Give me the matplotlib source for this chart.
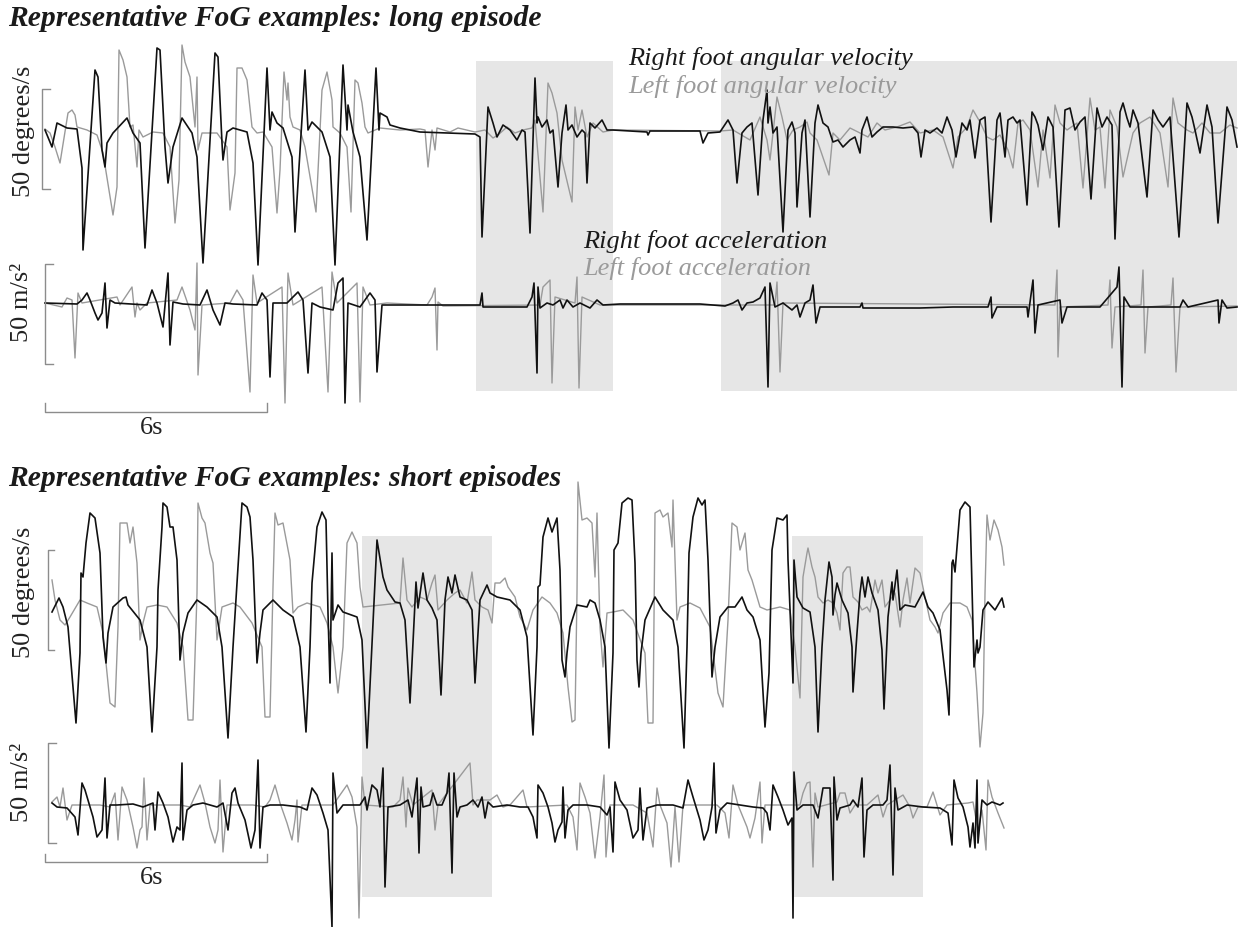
import numpy as np
import matplotlib
matplotlib.use("Agg")
import matplotlib.pyplot as plt
from matplotlib.patches import Rectangle

# sampling: 6 s scale bar = 222 samples
fs = 37.0

# (sample, value) pairs; gyro in degrees/s, acc in m/s^2
long_right_gyro = [
    (0, -0.5), (7, -9), (12, 3), (22, 0.5), (32, 0), (37, -19.5), (38, -60.5), (50, 29.5), (53, 26),
    (57, -10.5), (60, -19), (62, -7), (68, -2), (82, 5.5), (88, -2), (95, -7), (100, -59.5), (112, 40.5),
    (115, 39.5), (120, -9), (123, -27), (128, -9), (137, 5.5), (147, -2), (152, -14), (158, -67), (170, 38),
    (173, 36), (177, -7), (178, -15.5), (182, -1.5), (188, 0.5), (202, -1.5), (208, -17), (213, -68),
    (222, 30.5), (225, -0.5), (227, 8.5), (232, 3), (238, 0.5), (247, -14), (250, -51.5), (260, 29.5),
    (263, -0.5), (267, 3.5), (277, -1.5), (285, -14), (290, -68), (298, 32), (302, -0.5), (303, 12),
    (308, -1.5), (315, -14), (322, -55.5), (331, 30.5), (334, -0.5), (335, 8), (342, 6), (345, 2),
    (355, 0.5), (375, -1.5), (430, -2.5), (435, -4), (437, -54), (443, 11), (448, 3), (452, -4), (458, 2),
    (465, -0.5), (472, -5.5), (477, -0.5), (480, -1.5), (485, -52), (490, 25.5), (492, 3), (493, 6),
    (497, 1), (502, 4.5), (505, -2), (508, -0.5), (513, -29), (517, -2), (521, 12), (523, -0.5), (527, 2),
    (532, -4), (537, -0.5), (540, -2), (542, -27), (545, 3), (550, 0.5), (557, 4.5), (562, -0.5),
    (568, -0.5), (602, -1.5), (603, -3), (605, -1), (655, -1), (658, -7), (663, -2), (675, -1.5),
    (683, 4.5), (688, -0.5), (692, -27), (697, -2), (702, 1), (707, 3), (713, -33), (718, 4.5), (722, 19.5),
    (723, 3), (725, 11), (728, -2), (732, 1), (738, -51.5), (743, -0.5), (747, 3.5), (750, -2), (752, -39),
    (757, -2), (760, 4.5), (765, -44), (770, 3), (773, 12), (778, 3), (783, 1), (788, -6.5), (793, -5.5),
    (798, -9), (805, -5.5), (810, -4), (815, -12), (817, -0.5), (822, 6), (827, -4), (832, -1.5), (838, 1),
    (848, 1), (858, 0.5), (868, 1), (873, -2), (876, -14), (880, -0.5), (885, -2), (892, 0.5), (897, -2),
    (902, 6), (907, -0.5), (911, -14), (917, 3), (922, -0.5), (925, 4.5), (930, -14.5), (935, 4.5),
    (940, 6), (946, -46.5), (952, 4.5), (955, 8), (960, -14), (963, 4.5), (968, 6), (972, 3), (975, 4.5),
    (982, -38), (987, 8.5), (990, 6), (993, 2), (998, -10.5), (1003, 6), (1008, 1), (1014, -49),
    (1020, 9.5), (1025, 10.5), (1030, -0.5), (1035, 3.5), (1040, 6), (1046, -35), (1052, 10.5), (1057, 1),
    (1062, 6), (1067, 2), (1070, -55), (1075, 8.5), (1078, 13), (1082, 5.5), (1085, 1), (1088, 9.5),
    (1093, 3), (1102, -34), (1108, 9.5), (1113, 4.5), (1118, 1), (1125, 6), (1134, -54), (1142, 13),
    (1147, 6), (1150, -0.5), (1155, -12), (1162, 12), (1167, 1), (1173, -47), (1182, 11), (1187, 4.5),
    (1192, -9),
]
long_left_gyro = [
    (0, 0), (5, -2), (10, -9), (15, -17), (20, -1.5), (23, 8), (27, 9.5), (30, 7), (32, 1), (42, -0.5),
    (52, -3), (58, -12), (68, -43), (72, -29), (74, 39.5), (78, 34.5), (82, 26), (85, 1), (88, 2),
    (92, -19), (94, -0.5), (98, -4), (108, -1.5), (118, -2), (125, -9), (130, -47), (134, -25.5), (137, 42),
    (140, 33.5), (145, 26), (150, 1), (152, 26), (153, -10.5), (157, -2), (172, -2), (182, -9), (185, -40.5),
    (190, -22), (192, 30.5), (197, 30.5), (202, 24.5), (207, 1), (212, -2), (218, -1.5), (227, -9),
    (232, -42), (235, -20.5), (239, 28.5), (242, 14.5), (243, 23), (245, 6), (248, 1), (255, -0.5),
    (260, -9), (271, -41.5), (277, 19.5), (282, 28.5), (287, 14.5), (288, 1), (295, -2), (302, -9),
    (306, -41.5), (310, 24.5), (313, 23), (317, 13), (320, 1), (323, -2), (335, 0.5), (355, -0.5), (375, 0),
    (380, -0.5), (383, -19), (387, -0.5), (390, -10.5), (392, 0.5), (405, -1.5), (413, 0.5), (430, -1.5),
    (440, -0.5), (448, -4.5), (453, -3), (462, 1), (470, -2), (478, -0.5), (487, 0.5), (490, 4.5),
    (498, -41.5), (503, 23), (507, 18), (512, 8), (517, -15.5), (527, -36.5), (530, 11), (533, -0.5),
    (537, 9.5), (542, -4), (548, 3), (558, -1.5), (568, -0.5), (675, -1), (688, -0.5), (705, -5.5),
    (715, 6), (722, -5.5), (725, -15.5), (732, 16), (737, 6), (742, -5.5), (748, -0.5), (755, 1), (762, 3.5),
    (765, -2), (772, -5.5), (784, -23), (788, -2), (795, -5.5), (805, 0.5), (815, -2), (823, -4), (832, 3),
    (840, -0.5), (852, 1), (865, 3.5), (875, -2), (888, -0.5), (898, -4), (908, -19.5), (913, -4), (922, 1),
    (928, 9.5), (935, 3.5), (942, -4), (948, -5.5), (955, -3), (963, -10.5), (968, -19.5), (973, 3),
    (978, 4.5), (985, -0.5), (993, -29), (998, -0.5), (1005, -24.5), (1010, 12), (1015, 3), (1022, -0.5),
    (1032, 3), (1038, -29.5), (1045, 15.5), (1050, -0.5), (1055, 1), (1060, -29.5), (1065, 9.5), (1072, 1),
    (1078, -24), (1088, -2), (1095, 3), (1105, 6), (1115, -2), (1123, -29), (1128, 15.5), (1133, 3),
    (1142, -0.5), (1148, -2), (1157, 3), (1165, -2), (1175, -2), (1185, 2), (1192, 0.5),
]
long_right_acc = [
    (0, 0.5), (32, 0), (37, 2), (42, 5.5), (45, 2), (50, -4.5), (53, -8), (57, -4.5), (60, 10.5), (62, -12),
    (65, 2), (70, 0.5), (102, -0.5), (107, 7), (112, 0.5), (118, -11.5), (123, 15.5), (125, -20.5), (128, 1),
    (138, 0), (155, -0.5), (162, 7), (168, -3), (175, -10.5), (180, 0.5), (188, 0), (212, -0.5), (217, 5.5),
    (222, 2), (225, -36.5), (228, 0.5), (242, 0.5), (253, 6), (258, 2), (263, -34.5), (267, 0.5),
    (275, -1.5), (288, -3), (293, 10.5), (298, 13), (300, -49.5), (303, 0.5), (315, -1.5), (325, 5.5),
    (330, 2), (332, -34), (337, -0.5), (375, -0.5), (435, -0.5), (437, 5.5), (438, -1.5), (445, -1.5),
    (482, -1.5), (487, 3.5), (489, 10.5), (492, -34.5), (493, 8.5), (495, -2), (502, 0.5), (508, -0.5),
    (515, 2), (518, -2), (522, 2), (528, -1.5), (535, 0.5), (545, -2), (552, 2), (558, -0.5), (575, 0),
    (655, 0), (680, -1), (688, 0.5), (693, 2), (697, -3), (702, 0.5), (708, 1), (715, 3), (720, 8.5),
    (723, -41.5), (725, 10.5), (730, -1.5), (738, 0.5), (747, -3), (752, -0.5), (755, -6.5), (760, 0.5),
    (765, 2), (768, 9.5), (771, -9.5), (775, -1.5), (815, -1.5), (817, 0.5), (818, -2), (875, -2),
    (908, -1.5), (943, -1.5), (946, 3.5), (947, -7), (952, -1.5), (982, -1.5), (983, -6.5), (988, 12),
    (990, -14.5), (993, -0.5), (1015, 2), (1017, -9.5), (1022, -1.5), (1055, -1.5), (1072, 8.5),
    (1074, 18.5), (1077, -41.5), (1079, 3.5), (1085, -1.5), (1135, -1.5), (1138, 2), (1143, -1.5),
    (1173, 2), (1174, -9.5), (1177, 2), (1182, -2), (1192, -1.5),
]
long_left_acc = [
    (0, 0.5), (17, -1.5), (22, 3), (27, 2), (30, -27), (33, 5.5), (37, 0.5), (72, 3.5), (75, -0.5),
    (87, 8.5), (90, -6.5), (92, 0.5), (95, -3), (102, 0.5), (132, 2), (137, 8.5), (145, -3), (150, -13),
    (152, 20.5), (153, -35.5), (157, -0.5), (185, 0.5), (192, 7), (198, 2), (205, -44), (208, 14.5),
    (212, 0.5), (237, 8.5), (240, -49.5), (243, 15.5), (248, -0.5), (277, 8.5), (283, -44), (287, 16),
    (292, 0.5), (312, 10.5), (315, -49), (318, 8.5), (325, -0.5), (342, 0.5), (382, -0.5), (387, 3.5),
    (390, 8), (392, -23), (393, 1), (398, -1), (495, -0.5), (498, 8.5), (505, 12), (507, -39.5), (510, 3.5),
    (530, 0.5), (532, 13.5), (534, -42), (537, 3.5), (555, -0.5), (730, -0.5), (732, 11), (735, -34),
    (738, 0.5), (1010, -0.5), (1012, 17), (1013, -26.5), (1015, -1.5), (1063, -0.5), (1065, 12),
    (1067, -22), (1070, -1.5), (1096, -0.5), (1098, 17), (1100, -24.5), (1103, -1.5), (1126, -0.5),
    (1128, 13), (1131, -34), (1135, -1.5), (1192, -1),
]
short_right_gyro = [
    (7, -4), (14, 3), (18, -1.5), (23, -11.5), (31, -59.5), (35, -24.5), (36, 15.5), (38, 13.5), (41, 30.5),
    (45, 45.5), (50, 43), (55, 25.5), (58, -16.5), (61, -29.5), (63, -14.5), (68, -1.5), (78, 3), (81, 3.5),
    (83, -0.5), (95, -8), (102, -21.5), (107, -64), (112, -21.5), (113, 7), (117, 38.5), (118, 50.5),
    (122, 48.5), (125, 38.5), (128, 38.5), (132, 22), (135, -28), (138, -14.5), (143, -4.5), (152, 2),
    (162, -1.5), (172, -6.5), (177, -21.5), (183, -67), (188, -21.5), (192, 10.5), (197, 50.5), (202, 48.5),
    (205, 43.5), (208, 22), (212, -29.5), (215, -14.5), (218, -3), (228, 2), (238, -3), (248, -6.5),
    (255, -21.5), (261, -64), (265, -21.5), (267, 10.5), (272, 38.5), (277, 46), (281, 42), (283, -4.5),
    (285, -39.5), (287, 25.5), (288, -8), (293, -0.5), (298, -4), (312, -6.5), (317, -18), (322, -72),
    (332, 32), (338, 13.5), (342, 7), (350, 1), (355, 0.5), (360, -8), (365, -49.5), (371, 11), (373, -2),
    (378, 15.5), (382, 2), (387, -2), (392, -8), (396, -45.5), (400, 2), (403, 13.5), (407, 5.5), (410, 14.5),
    (415, 3.5), (422, 2), (427, -3), (430, -39.5), (435, 2), (442, 9.5), (445, 5.5), (452, 3.5), (465, 2),
    (475, -3), (482, -16.5), (488, -65.5), (492, -21.5), (493, 8.5), (495, 9.5), (498, 33.5), (503, 43),
    (507, 36), (512, 43), (515, 17), (517, -28), (520, -36.5), (522, -24.5), (525, -11.5), (532, -0.5),
    (542, -1.5), (545, 2), (550, 0.5), (555, -8), (560, -21.5), (564, -72), (568, -24.5), (569, 27),
    (573, 30.5), (577, 50.5), (583, 53), (587, 52), (590, 20.5), (592, -28), (594, -41.5), (596, -24.5),
    (600, -8), (610, 3.5), (618, -3), (628, -8), (633, -21.5), (639, -72), (642, -21.5), (644, 25.5),
    (648, 43.5), (653, 53), (657, 49.5), (660, 52), (663, 22), (667, -36.5), (670, -21.5), (675, -6.5),
    (683, -1.5), (690, -1.5), (697, 3.5), (702, -3), (708, -6.5), (715, -18), (720, -61.5), (724, -34.5),
    (727, 27), (732, 43), (738, 42), (742, 44.5), (743, 22), (748, -39.5), (749, 22), (752, 3.5), (758, -2),
    (765, -4), (770, -21.5), (773, -64), (777, -21.5), (780, 2), (784, 21), (787, 13.5), (788, -5.5),
    (790, 4.5), (792, 10.5), (797, 2), (803, -4.5), (807, -21.5), (808, -44), (812, -14.5), (815, 5.5),
    (817, 13.5), (820, 3.5), (823, 13.5), (827, 5.5), (833, -3), (837, -23), (839, -52.5), (843, -6.5),
    (847, 11), (848, 2), (852, 17), (855, -3), (860, -0.5), (870, -1.5), (878, 6), (883, -1.5), (888, -4.5),
    (895, -13), (902, -43), (904, -55.5), (907, 20.5), (908, 22), (910, 16), (915, 47), (920, 51),
    (925, 48.5), (927, 8.5), (929, -31.5), (932, -18), (933, -24.5), (935, -21.5), (938, -3), (943, 1),
    (950, -3), (957, 3), (959, -1.5),
]
short_left_gyro = [
    (7, 12), (10, 2), (15, -8), (20, -10.5), (25, -6.5), (35, 2), (42, 0.5), (52, -1.5), (58, -14.5),
    (65, -49.5), (70, -51.5), (73, -11.5), (75, 40.5), (82, 40.5), (85, 30.5), (88, 38.5), (92, 20.5),
    (95, -18), (98, -9.5), (102, -1.5), (112, -0.5), (122, -1.5), (132, -9.5), (138, -21.5), (143, -58),
    (148, -58), (152, 5.5), (153, 50.5), (157, 43), (160, 40.5), (165, 25.5), (168, 20.5), (172, -18),
    (177, -1.5), (188, 0.5), (195, -1.5), (207, -9.5), (217, -21.5), (220, -56.5), (225, -56.5), (228, 8.5),
    (230, 45.5), (233, 39.5), (238, 40.5), (245, 22), (248, -4.5), (253, -1.5), (262, 0.5), (275, -1.5),
    (282, -9.5), (288, -21.5), (293, -44.5), (298, -21.5), (302, 30.5), (307, 36), (312, 30.5), (315, 8.5),
    (318, -1.5), (355, 0.5), (358, 23), (362, 2), (367, -1.5), (375, 3.5), (382, 2), (387, 10.5),
    (390, 14.5), (393, -3), (402, 2), (410, 5.5), (415, 7), (422, 0.5), (427, 16), (430, 2), (437, -1.5),
    (443, -3), (447, -9.5), (450, 10.5), (455, 10.5), (460, 13), (463, 8.5), (470, 3.5), (475, -6.5),
    (482, -13), (488, -3), (497, 3.5), (505, 0.5), (512, -4.5), (518, -14.5), (523, -41.5), (527, -59),
    (530, -58), (532, 5.5), (533, 61), (537, 42), (542, 43), (547, 40.5), (550, 13.5), (552, 45.5),
    (555, -11.5), (558, -31.5), (562, -4.5), (568, -4), (578, -3), (588, -8), (600, -24.5), (603, -59.5),
    (608, -59.5), (610, 45.5), (615, 47), (618, 43.5), (623, 45.5), (627, 28.5), (628, 52), (632, -8),
    (635, -1.5), (645, 0.5), (655, -2), (665, -11.5), (673, -44.5), (678, -51.5), (683, -8), (687, 40.5),
    (692, 38.5), (695, 27), (700, 35.5), (703, 17), (707, 12), (715, -1.5), (722, -3), (735, -1.5),
    (745, -3), (750, -21.5), (755, -47), (758, 13.5), (762, 25.5), (763, 28), (767, 18.5), (770, 13.5),
    (773, 3.5), (778, 0.5), (783, 2), (788, 0.5), (792, -4.5), (795, -13), (798, 15.5), (802, 18.5),
    (805, 18.5), (808, 3.5), (813, 1), (817, -3), (822, -1.5), (825, -4), (830, 12), (833, 5.5), (837, 12),
    (840, -1.5), (845, 2), (850, 5.5), (855, -11.5), (858, 2), (862, 13), (865, 0.5), (870, 18),
    (875, 15.5), (880, 3.5), (885, -8), (890, -11.5), (893, -14.5), (898, -4.5), (905, 0.5), (915, 0.5),
    (922, -1.5), (927, -8), (932, -44.5), (935, -71.5), (938, -54.5), (940, 5.5), (942, 44.5), (945, 32),
    (949, 42), (953, 37), (957, 28.5), (959, 19.5),
]
short_right_acc = [
    (7, 1), (12, -1), (22, -1.5), (30, -6), (33, -15), (37, 11), (40, 7.5), (43, 2.5), (48, -6), (52, -16),
    (57, -12.5), (60, 13.5), (62, -16.5), (65, 0), (72, 0), (88, 0.5), (98, -1), (108, 1), (110, -12.5),
    (113, 6.5), (118, 1), (123, -6), (128, -18.5), (132, -11), (135, -12.5), (137, 21), (138, -17.5),
    (142, -2.5), (148, 0), (158, 1), (172, -1), (178, 1), (183, -12.5), (187, 6), (190, 8.5), (193, 1),
    (200, -7.5), (206, -21.5), (210, -12.5), (213, 22.5), (215, -21.5), (218, -1), (225, 0), (238, 0),
    (255, -1), (262, -2.5), (267, 8.5), (272, 5), (278, -4), (283, -12.5), (287, -61), (288, 16), (292, -4),
    (298, 0), (315, 0), (320, 4), (322, -2.5), (327, 10), (332, 7.5), (335, -1), (338, 18.5), (340, -41),
    (343, -1), (355, 0), (363, 2.5), (367, -6), (372, 13.5), (374, -24), (376, 9), (378, -1), (385, 0),
    (388, 6), (392, 0), (397, 0), (402, 6), (404, 16), (407, -34), (409, 16), (412, -6), (415, -1), (422, 0),
    (428, 2.5), (433, -1), (437, 4), (440, -6.5), (443, 1.5), (448, -1), (462, 0), (475, -1), (483, -1),
    (488, -6), (492, -16.5), (493, 10), (498, 6), (503, -1), (507, -9), (510, -18.5), (513, -12.5),
    (517, -8.5), (518, 9), (520, -16.5), (523, -2.5), (528, 0), (542, 0), (555, -1), (562, -5), (565, -1),
    (568, -23.5), (570, 11.5), (575, 2.5), (582, -2.5), (588, -16.5), (593, -12.5), (595, 8.5),
    (598, -17.5), (602, -1.5), (612, 0), (628, 0), (638, -1.5), (643, 12.5), (648, 4), (655, -7.5),
    (659, -17.5), (663, -12.5), (667, -1), (669, 21), (671, -14), (675, -2.5), (682, 1), (695, 0), (708, -1),
    (718, -1.5), (722, -4), (725, -12.5), (728, 10), (733, 4), (738, -2.5), (743, -10), (747, -6.5),
    (748, -56.5), (749, 16.5), (752, -2.5), (758, 0), (768, 0), (773, -6.5), (778, 8.5), (785, 8.5),
    (788, -37.5), (789, 14), (792, -7.5), (795, -1.5), (805, 0), (808, 2.5), (813, -1), (817, 13.5),
    (819, -26), (822, -2.5), (828, 0), (838, 0), (842, 2.5), (845, 20), (848, -35), (850, 8.5), (853, -2.5),
    (862, 0), (878, -1), (895, -1.5), (903, -4), (907, -20), (909, 12.5), (913, 3.5), (918, -1), (923, -11),
    (925, -21), (928, -9), (930, -21.5), (932, 12.5), (933, -19), (937, 2.5), (942, 0), (947, 1.5),
    (955, 0), (958, 1),
]
short_left_acc = [
    (7, 1.5), (12, 4), (15, -1), (18, 8.5), (22, -7.5), (27, 0), (55, 0), (65, -1), (70, 6), (73, -17.5),
    (77, 9), (82, 2.5), (88, -11), (92, -21.5), (95, -12.5), (97, -11), (99, 13.5), (102, -17.5), (105, 0),
    (135, 0), (145, -1), (155, 10), (160, 1), (165, -11), (170, -19), (173, -12.5), (175, 12.5),
    (178, -23.5), (182, 0), (208, 0), (220, -1), (225, 2.5), (230, 10), (235, 1), (242, -9), (247, -17.5),
    (250, -7.5), (252, 2.5), (253, -18.5), (257, 0), (288, 0), (302, 10), (307, 4), (312, -11), (314, -56.5),
    (317, 14), (320, 0), (348, -1), (355, 2.5), (358, 14), (361, -11), (363, 8.5), (368, 0), (387, 7.5),
    (390, -12.5), (393, 0), (425, 21), (428, 0), (432, 2.5), (445, 2.5), (452, 5), (458, -1), (465, 0),
    (478, 7.5), (482, -1), (522, 0), (528, -6), (532, -22.5), (535, 11), (540, 4), (545, -4), (550, -26.5),
    (555, -6), (559, 15), (561, -26), (565, 0), (588, 0), (602, -4), (608, -21), (612, 8.5), (615, 0),
    (622, -9), (626, -31), (630, -1), (634, -28.5), (638, 0), (672, 0), (680, -4), (684, -16.5), (688, 10),
    (693, 0), (702, -11), (705, -16.5), (710, -6.5), (715, 11.5), (717, -19), (720, 0), (755, 0), (758, 6),
    (762, 11), (765, 11.5), (768, -31), (770, 6), (773, -1), (792, 1.5), (795, 6), (800, 6), (805, -4),
    (810, 0), (822, 0), (833, 5), (838, -6), (842, 0), (858, 5), (865, -1), (868, -6.5), (873, -1),
    (882, -1), (888, 6.5), (895, -5), (902, 0), (923, 1), (928, 1.5), (933, -12.5), (937, -2.5),
    (941, -22.5), (943, 12.5), (947, 4), (953, -4), (959, -11.5),
]

# FoG episodes (start, end) in samples
long_episodes = [(431, 568), (676, 1192)]
short_episodes = [(317, 447), (747, 878)]

# ---------------------------------------------------------------
W, H = 1249, 927
X0 = 45  # pixel column of sample 0

fig = plt.figure(figsize=(W / 100, H / 100), dpi=100)
ax = fig.add_axes([0, 0, 1, 1])
ax.set_xlim(-X0, W - X0)
ax.set_ylim(-H / 2, 0)
ax.axis("off")

SERIF = ["Liberation Serif", "DejaVu Serif"]
BLACK = "#111111"
GREY = "#9a9a9a"
BRACKET = "#8c8c8c"


def py(y):
    # pixel row -> axis units (2 px per unit)
    return -y / 2


def draw_trace(pairs, base, color, lw, z):
    arr = np.array(pairs, dtype=float)
    ax.plot(arr[:, 0], arr[:, 1] + py(base), color=color, lw=lw, zorder=z,
            solid_joinstyle="round")


def shade(episodes, top, bottom):
    for s0, s1 in episodes:
        ax.add_patch(Rectangle((s0, py(bottom)), s1 - s0, py(top) - py(bottom),
                               facecolor="#e6e6e6", edgecolor="none", zorder=0))


def amp_bar(x, base, hi, lo, tick, label, label_x, label_y):
    y0, y1 = py(base) + hi, py(base) + lo
    ax.plot([x + tick, x, x, x + tick], [y0, y0, y1, y1], color=BRACKET, lw=1.0, zorder=3)
    ax.text(label_x, py(label_y), label, rotation=90, ha="center", va="center",
            fontsize=19, family=SERIF, color="#222222")


def time_bar(y, tick_y, label_y):
    length = 6 * fs
    ax.plot([0, 0, length, length], [py(tick_y), py(y), py(y), py(tick_y)],
            color=BRACKET, lw=1.0, zorder=3)
    ax.text(length / 2 - 4, py(label_y), "6s", ha="center", va="center",
            fontsize=19, family=SERIF, color="#222222")


# long episode panel
shade(long_episodes, 61, 391)
draw_trace(long_left_gyro, 129, GREY, 1.0, 2)
draw_trace(long_right_gyro, 129, BLACK, 1.2, 3)
draw_trace(long_left_acc, 304, GREY, 1.0, 2)
draw_trace(long_right_acc, 304, BLACK, 1.2, 3)
amp_bar(-3, 129, 20, -30, 8, "50 degrees/s", 24 - X0, 131)
amp_bar(0, 304, 20, -30, 8, "50 m/s²", 22 - X0, 302)
time_bar(412, 403, 428)

# short episodes panel
shade(short_episodes, 536, 897)
draw_trace(short_left_gyro, 604, GREY, 1.0, 2)
draw_trace(short_right_gyro, 604, BLACK, 1.2, 3)
draw_trace(short_left_acc, 805, GREY, 1.0, 2)
draw_trace(short_right_acc, 805, BLACK, 1.2, 3)
amp_bar(3, 604, 27, -23, 6, "50 degrees/s", 24 - X0, 592)
amp_bar(3, 805, 31, -19, 8, "50 m/s²", 22 - X0, 782)
time_bar(862, 854, 878)

# titles
ax.text(8 - X0, py(18), "Representative FoG examples: long episode", ha="left", va="center",
        fontsize=21.3, family=SERIF, style="italic", weight="bold", color="#1a1a1a")
ax.text(8 - X0, py(478), "Representative FoG examples: short episodes", ha="left", va="center",
        fontsize=21.3, family=SERIF, style="italic", weight="bold", color="#1a1a1a")

# legend labels
for txt, x, y, c in [("Right foot angular velocity", 628, 58, "#1a1a1a"),
                     ("Left foot angular velocity", 628, 86, GREY),
                     ("Right foot acceleration", 583, 241, "#1a1a1a"),
                     ("Left foot acceleration", 583, 269, GREY)]:
    ax.text(x - X0, py(y), txt, ha="left", va="center", fontsize=19, family=SERIF,
            style="italic", color=c, zorder=5)

fig.savefig("out.png", dpi=100, facecolor="white")
